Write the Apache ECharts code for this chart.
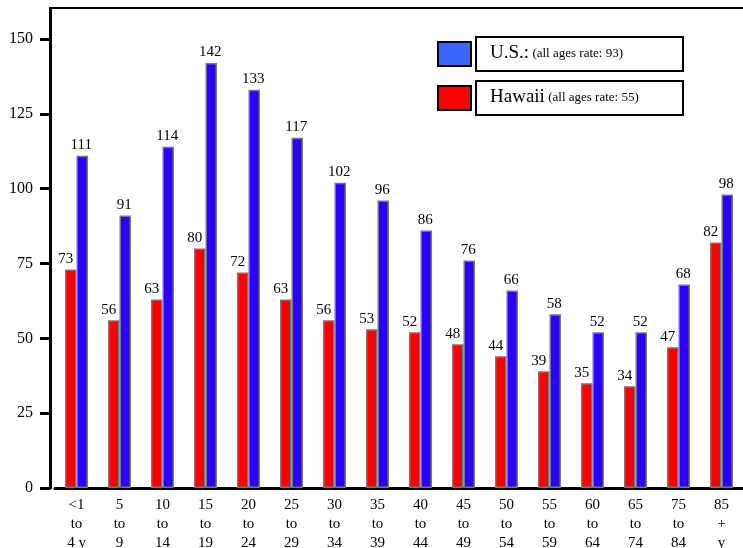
<!DOCTYPE html>
<html>
<head>
<meta charset="utf-8">
<script src="https://cdn.jsdelivr.net/npm/echarts@6/dist/echarts.min.js"></script>
<style>
  html, body { margin: 0; padding: 0; background: #fff; }
  #chart { width: 743px; height: 548px; }
</style>
</head>
<body>
<div id="chart"></div>
<script>
// Age groups along the x axis
const ageGroups = ['<1\nto\n4 y', '5\nto\n9', '10\nto\n14', '15\nto\n19', '20\nto\n24', '25\nto\n29',
  '30\nto\n34', '35\nto\n39', '40\nto\n44', '45\nto\n49', '50\nto\n54', '55\nto\n59',
  '60\nto\n64', '65\nto\n74', '75\nto\n84', '85\n+\ny'];

// Rates per age group
const hawaiiRates = [73, 56, 63, 80, 72, 63, 56, 53, 52, 48, 44, 39, 35, 34, 47, 82];
const usRates = [111, 91, 114, 142, 133, 117, 102, 96, 86, 76, 66, 58, 52, 52, 68, 98];

// All-ages rates shown in the legend
const usAllAges = 93;
const hawaiiAllAges = 55;

// Y axis ticks
const yTicks = [0, 25, 50, 75, 100, 125, 150];

const serif = 'Liberation Serif';
const chart = echarts.init(document.getElementById('chart'));

function valueLabel(dx) {
  return {
    show: true,
    position: 'top',
    distance: 3,
    offset: [dx, 0],
    color: '#000',
    fontFamily: serif,
    fontSize: 15
  };
}

chart.setOption({
  animation: false,
  backgroundColor: '#fff',
  grid: { left: 55, right: 0, top: 9, bottom: 60, outerBoundsMode: 'none', containLabel: false },
  legend: {
    orient: 'vertical',
    left: 437,
    top: 36,
    padding: 0,
    itemGap: 8,
    itemWidth: 33,
    itemHeight: 24,
    icon: 'rect',
    data: [
      { name: 'U.S.', itemStyle: { color: '#3d66ff', borderColor: '#000', borderWidth: 2 } },
      { name: 'Hawaii', itemStyle: { color: '#ff0000', borderColor: '#000', borderWidth: 2 } }
    ],
    formatter: function (name) {
      if (name === 'U.S.') return '{big|U.S.:} {small|(all ages rate: ' + usAllAges + ')}';
      return '{big|Hawaii} {small|(all ages rate: ' + hawaiiAllAges + ')}';
    },
    textStyle: {
      borderColor: '#000',
      borderWidth: 2,
      padding: [7, 10, 5, 14],
      width: 183,
      height: 22,
      color: '#000',
      rich: {
        big: { fontFamily: serif, fontSize: 19, color: '#000' },
        small: { fontFamily: serif, fontSize: 13, color: '#000' }
      }
    }
  },
  xAxis: {
    type: 'category',
    data: ageGroups,
    axisLine: { lineStyle: { color: '#000', width: 3 } },
    axisTick: { show: false },
    axisLabel: {
      color: '#000',
      fontFamily: serif,
      fontSize: 15,
      lineHeight: 19,
      margin: 8,
      interval: 0
    }
  },
  yAxis: {
    type: 'value',
    min: 0,
    max: 160,
    interval: 25,
    offset: 5,
    splitLine: { show: false },
    axisLine: { show: true, lineStyle: { color: '#000', width: 3 } },
    axisTick: { show: true, length: 10, lineStyle: { color: '#000', width: 3 }, customValues: yTicks },
    axisLabel: { color: '#000', fontFamily: serif, fontSize: 16, margin: 17, customValues: yTicks }
  },
  graphic: [
    { type: 'line', shape: { x1: 49, y1: 8, x2: 743, y2: 8 }, style: { stroke: '#000', lineWidth: 2 } }
  ],
  series: [
    {
      name: 'Hawaii',
      type: 'bar',
      data: hawaiiRates,
      barWidth: 11.5,
      barGap: '0%',
      itemStyle: { color: '#ff0000', borderColor: '#777', borderWidth: 1.5 },
      label: valueLabel(-5)
    },
    {
      name: 'U.S.',
      type: 'bar',
      data: usRates,
      barWidth: 11.5,
      barGap: '0%',
      itemStyle: { color: '#2c00ff', borderColor: '#777', borderWidth: 1.5 },
      label: valueLabel(-1)
    }
  ]
});
</script>
</body>
</html>
